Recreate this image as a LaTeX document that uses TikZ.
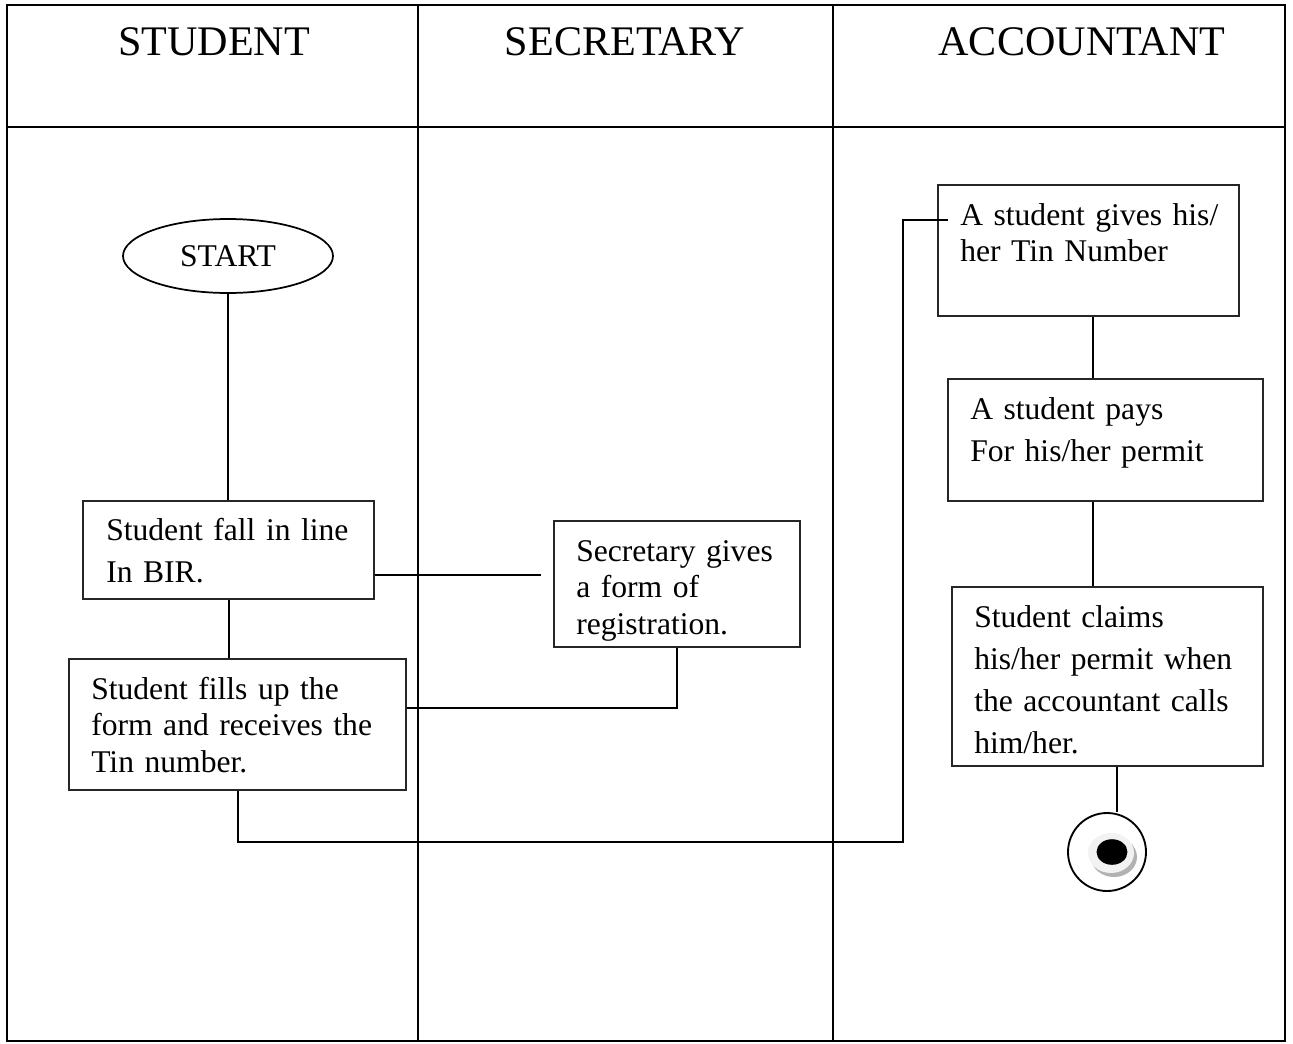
\documentclass[tikz,border=0pt]{standalone}
\usepackage{fontspec}
\setmainfont{Liberation Serif}
\usetikzlibrary{shapes.geometric,fit}
\begin{document}
\begin{tikzpicture}[x=0.75pt,y=-0.75pt,
  frame/.style={line width=1.4pt},
  lane/.style={line width=1.1pt},
  wire/.style={line width=1.5pt},
  actbox/.style={draw=black!85, line width=1.1pt, inner sep=0pt, rectangle},
  lanehead/.style={font=\fontsize{31.6}{38}\selectfont, anchor=base, inner sep=0pt},
  body/.style={font=\fontsize{23.7}{31.5}\selectfont, anchor=base west, inner sep=0pt,
               align=left, text width=300pt},
  tight/.style={font=\fontsize{23.7}{27.4}\selectfont},
  startnode/.style={ellipse, draw, line width=1.3pt, minimum width=157.5pt,
                    minimum height=55.5pt, inner sep=0pt, font=\fontsize{23.7}{28}\selectfont},
  endnode/.style={circle, draw, line width=1.4pt, minimum size=58.5pt, inner sep=0pt}
]
\useasboundingbox (0,0) rectangle (1293,1043);

% swimlane frame
\draw[frame] (7,5) rectangle (1285,1041);
\draw[frame] (7,127) -- (1285,127);
\draw[lane] (418,5) -- (418,1041);
\draw[lane] (833,5) -- (833,1041);

\node[lanehead] (hstu) at (214,55) {STUDENT};
\node[lanehead] (hsec) at (625,55) {SECRETARY};
\node[lanehead] (hacc) at (1082,55) {ACCOUNTANT};

% activities
\node[startnode] (start) at (228,256) {START};

\node[actbox, fit={(83,501) (374,599)}] (b1) {};
\node[body] (t1) at (106,540) {Student fall in line\\In BIR.};

\node[actbox, fit={(554,521) (800,647)}] (b2) {};
\node[body,tight] (t2) at (576,561) {Secretary gives\\a form of\\registration.};

\node[actbox, fit={(69,659) (406,790)}] (b3) {};
\node[body,tight] (t3) at (91,699) {Student fills up the\\form and receives the\\Tin number.};

\node[actbox, fit={(938,185) (1239,316)}] (b4) {};
\node[body,font=\fontsize{23.7}{27}\selectfont] (t4) at (960,225) {A student gives his/\\her Tin Number};

\node[actbox, fit={(948,379) (1263,501)}] (b5) {};
\node[body] (t5) at (970,419) {A student pays\\For his/her permit};

\node[actbox, fit={(952,587) (1263,766)}] (b6) {};
\node[body] (t6) at (974,627) {Student claims\\his/her permit when\\the accountant calls\\him/her.};

% final state
\node[endnode] (end) at (1107,852) {};
\fill[gray!60] (1114,857) ellipse (17.25pt and 15pt);
\fill[gray!10] (1111,853) ellipse (17.25pt and 15pt);
\fill[black] (1112,852) ellipse (11.6pt and 9.6pt);

% connector joints
\coordinate (j1) at (541,575);
\coordinate (j2) at (677,708);
\coordinate (j3) at (903,842);
\coordinate (j4) at (903,220);
\coordinate (j5) at (948,220);
\coordinate (k1) at (1093,0);
\coordinate (k2) at (1117,0);

% connectors
\draw[wire] (start.south) -- (start.south |- b1.north);
\draw[wire] (b1.east |- j1) -- (j1);
\draw[wire] (b1.south) -- (b1.south |- b3.north);
\draw[wire] (b2.south -| j2) -- (j2) -- (j2 -| b3.east);
\draw[wire] (b3.south) |- (j3) -- (j4) -- (j5);
\draw[wire] (b4.south -| k1) -- (b5.north -| k1);
\draw[wire] (b5.south -| k1) -- (b6.north -| k1);
\draw[wire] (b6.south -| k2) -- (end.north -| k2);
\end{tikzpicture}
\end{document}
